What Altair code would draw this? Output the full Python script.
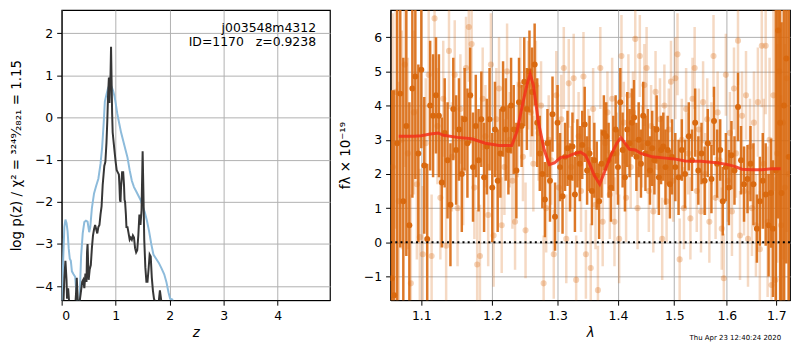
import altair as alt
import pandas as pd

# ---------------- p(z) panel data ----------------
Z_PRIOR = [0.0, 0.03, 0.05, 0.07, 0.09, 0.11, 0.13, 0.15, 0.17, 0.19, 0.22, 0.25, 0.27, 0.30, 0.33,
           0.36, 0.39, 0.42, 0.45, 0.48, 0.51, 0.53, 0.56, 0.60, 0.64, 0.68, 0.72, 0.75, 0.78, 0.80,
           0.83, 0.86, 0.89, 0.92, 0.95, 0.98, 1.00, 1.03, 1.06, 1.10, 1.14, 1.18, 1.22, 1.26, 1.30,
           1.34, 1.38, 1.42, 1.46, 1.50, 1.54, 1.58, 1.62, 1.66, 1.70, 1.75, 1.80, 1.85, 1.90, 1.94,
           1.98, 2.01, 2.05, 2.08]
LOGP_PRIOR = [-4.6, -3.3, -2.6, -2.42, -2.5, -2.7, -3.1, -3.35, -3.4, -3.65, -3.72, -3.78, -4.1, -4.5, -4.4,
              -3.3, -2.75, -2.48, -2.45, -2.47, -2.72, -2.6, -2.15, -1.8, -1.62, -1.45, -1.1, -0.7, -0.1, 0.38,
              0.55, 0.7, 0.78, 0.75, 0.65, 0.5, 0.35, 0.1, -0.1, -0.35, -0.55, -0.75, -0.95, -1.25, -1.5,
              -1.65, -1.75, -1.85, -1.95, -2.1, -2.25, -2.45, -2.7, -3.0, -3.25, -3.35, -3.45, -3.58, -3.72, -3.9,
              -4.15, -4.3, -4.32, -4.45]

Z_CHI = [0.03, 0.05, 0.07, 0.09, 0.10, 0.12, 0.14, 0.16, 0.25, 0.27, 0.28, 0.30, 0.32, 0.35, 0.38,
         0.40, 0.42, 0.44, 0.46, 0.47, 0.48, 0.50, 0.52, 0.54, 0.56, 0.58, 0.60, 0.62, 0.64, 0.66,
         0.68, 0.70, 0.72, 0.74, 0.76, 0.79, 0.81, 0.83, 0.845, 0.86, 0.875, 0.885, 0.895, 0.905, 0.915,
         0.925, 0.935, 0.945, 0.96, 0.98, 1.00, 1.02, 1.04, 1.06, 1.07, 1.08, 1.09, 1.10, 1.12, 1.14,
         1.155, 1.165, 1.175, 1.19, 1.20, 1.22, 1.24, 1.26, 1.28, 1.30, 1.32, 1.34, 1.36, 1.38, 1.40,
         1.42, 1.44, 1.46, 1.48, 1.50, 1.515, 1.53, 1.55, 1.57, 1.59, 1.61, 1.63, 1.65, 1.67, 1.69,
         1.71, 1.74, 1.77, 1.80, 1.82, 1.84, 1.86]
LOGP_CHI = [-4.5, -3.8, -3.4, -3.85, -4.3, -4.05, -4.4, -4.5, -4.5, -4.1, -3.8, -4.4, -4.5, -4.2, -3.9,
            -3.85, -4.05, -3.7, -3.9, -3.2, -3.0, -3.85, -3.6, -3.5, -3.1, -2.8, -2.65, -2.55, -2.65, -2.75,
            -2.6, -2.55, -2.3, -2.1, -1.6, -1.15, -1.05, -0.6, -0.1, 0.55, 0.95, 0.35, 0.85, 1.0, 1.68,
            0.9, 0.1, -0.35, -0.55, -0.8, -1.05, -1.25, -1.3, -1.35, -1.6, -1.95, -2.0, -1.65, -1.3, -1.3,
            -1.6, -1.95, -2.0, -2.3, -2.6, -2.6, -2.75, -2.9, -2.85, -2.9, -2.8, -2.85, -3.1, -3.2, -3.15,
            -2.8, -2.3, -2.55, -2.2, -0.8, -1.8, -2.9, -3.55, -3.9, -3.9, -3.6, -3.25, -3.3, -3.8, -4.1,
            -4.3, -4.4, -4.4, -4.35, -4.1, -4.3, -4.5]

# ---------------- spectrum panel data ----------------
DARK_LAM = [1.061, 1.064, 1.068, 1.072, 1.076, 1.080, 1.084, 1.088, 1.092, 1.096, 1.100,
            1.104, 1.108, 1.112, 1.116, 1.120, 1.124, 1.128, 1.132, 1.136, 1.140, 1.144, 1.148, 1.152,
            1.156, 1.160, 1.164, 1.168, 1.172, 1.176, 1.180, 1.184, 1.188, 1.192, 1.196, 1.200, 1.204,
            1.208, 1.212, 1.216, 1.220, 1.224, 1.228, 1.232, 1.236, 1.240, 1.244, 1.248, 1.252, 1.256,
            1.260, 1.264, 1.268,
            1.272, 1.276, 1.280, 1.284, 1.288, 1.292, 1.296, 1.300, 1.304, 1.308, 1.312, 1.316, 1.320,
            1.324, 1.328, 1.332, 1.336, 1.340, 1.344, 1.348, 1.352, 1.356, 1.360, 1.364, 1.368, 1.372,
            1.376, 1.380, 1.384, 1.388, 1.392, 1.396, 1.400, 1.404, 1.408, 1.412, 1.416, 1.420, 1.424,
            1.428, 1.432, 1.436, 1.440, 1.444, 1.448, 1.452, 1.456, 1.460, 1.464, 1.468, 1.472, 1.476,
            1.480, 1.484, 1.488, 1.492, 1.496,
            1.502, 1.508, 1.514, 1.520, 1.527, 1.533, 1.539, 1.545, 1.551, 1.557, 1.563, 1.570, 1.575,
            1.581, 1.587, 1.592, 1.598, 1.604, 1.609, 1.615, 1.622, 1.628, 1.634, 1.641, 1.647, 1.653,
            1.660, 1.666, 1.672, 1.678, 1.684, 1.689, 1.693,
            1.699, 1.704, 1.708, 1.711, 1.716, 1.721, 1.726]
DARK_FLUX = [-1.05, -1.55, 2.9, 4.35, 1.2, 3.4, 0.5, 4.5, 4.85, 2.6, 5.05,
             2.25, 0.1, 4.0, 3.7, 4.3, 3.7, 1.75, 3.2, 2.4, 1.1, 3.9, 2.7, 3.3,
             2.0, 3.6, 2.9, 4.3, 2.2, 3.4, 2.4, 3.6, 1.9, 2.8, 3.6, 1.6, 3.3,
             1.8, 2.6, 3.9, 3.3, 2.7, 4.0, 3.3, 2.1, 4.1, 3.4, 4.7, 3.9, 5.0,
             4.4, 5.2, 3.5,
             2.6, 2.0, 1.25, 2.9, 1.8, 3.75, 0.75, 3.5, 2.2, 1.35, 2.5, 2.75, 1.9,
             2.8, 1.4, 2.6, 2.3, 2.85, 3.45, 2.1, 2.6, 1.5, 2.4, 1.95, 1.2, 2.3,
             3.2, 3.1, 2.4, 1.6, 2.6, 3.3, 2.2, 4.1, 2.7, 1.9, 3.3, 2.9, 3.5,
             3.65, 2.5, 3.0, 2.3, 3.7, 2.6, 2.9, 2.1, 2.75, 2.4, 3.3, 1.9, 2.7,
             2.8, 2.2, 2.7, 1.7, 2.5,
             2.2, 1.9, 2.7, 2.0, 3.1, 2.4, 3.5, 2.1, 2.6, 1.8, 2.9, 1.85, 3.55,
             2.3, 2.7, 1.2, 2.2, 1.6, 2.55, 2.1, 3.96, 2.4, 1.7, 1.85, 2.3, 1.7,
             0.4, 1.2, 1.8, 1.4, 0.5, 1.44, 0.4,
             2.1, 6.2, 3.5, 1.44, 4.0, 5.38, 2.5]
DARK_ERR = [5.5, 6.0, 5.0, 4.5, 4.2, 3.8, 3.6, 3.2, 3.0, 2.6, 2.3,
            2.0, 2.2, 1.9, 1.8, 1.7, 1.8, 1.9, 1.6, 1.7, 1.8, 1.5, 1.6, 1.5,
            1.7, 1.5, 1.6, 1.4, 1.6, 1.5, 1.5, 1.4, 1.6, 1.4, 1.5, 1.6, 1.4,
            1.5, 1.3, 1.4, 1.5, 1.3, 1.4, 1.3, 1.4, 1.3, 1.2, 1.3, 1.2, 1.2,
            1.3, 1.2, 1.3,
            1.1, 1.0, 1.1, 1.0, 1.2, 1.1, 1.0, 1.1, 1.0, 1.1, 1.0, 1.1, 1.0,
            1.0, 1.1, 1.0, 1.1, 1.0, 1.1, 1.0, 1.1, 1.0, 1.1, 1.0, 1.1, 1.0,
            1.1, 1.0, 1.1, 1.0, 1.1, 1.0, 1.1, 1.0, 1.1, 1.0, 1.1, 1.0, 1.0,
            1.1, 1.0, 1.1, 1.0, 1.0, 1.1, 1.0, 1.0, 1.1, 1.0, 1.0, 1.1, 1.0,
            1.0, 1.1, 1.0, 1.0, 1.1,
            1.0, 1.1, 0.9, 1.0, 1.0, 0.9, 1.0, 1.0, 0.9, 1.0, 1.0, 1.0, 1.0,
            1.0, 0.9, 1.0, 1.0, 1.1, 1.0, 1.0, 1.0, 1.0, 1.1, 1.0, 1.1, 1.2,
            1.0, 1.3, 1.4, 1.5, 1.5, 1.6, 2.0,
            5.0, 5.5, 6.0, 5.0, 6.5, 6.0, 7.0]

LIGHT_LAM = [1.062, 1.066, 1.070, 1.074, 1.078, 1.082, 1.086, 1.090, 1.094, 1.098, 1.102, 1.106,
             1.110, 1.114, 1.118, 1.122, 1.126, 1.130, 1.134, 1.138, 1.142, 1.146, 1.150, 1.154,
             1.158, 1.162, 1.166, 1.170, 1.174, 1.178, 1.182, 1.186, 1.190, 1.194, 1.198, 1.202,
             1.206, 1.210, 1.214, 1.218, 1.222, 1.226, 1.230, 1.234, 1.238, 1.242, 1.246, 1.250,
             1.254, 1.258, 1.262, 1.266, 1.270, 1.274, 1.278, 1.282, 1.286, 1.290, 1.294, 1.298,
             1.302, 1.306, 1.310, 1.314, 1.318, 1.322, 1.326, 1.330, 1.334, 1.338, 1.342, 1.346,
             1.350, 1.354, 1.358, 1.362, 1.366, 1.370, 1.374, 1.378, 1.382, 1.386, 1.390, 1.394,
             1.398, 1.402, 1.406, 1.410, 1.414, 1.418, 1.422, 1.426, 1.430, 1.434, 1.438, 1.442,
             1.446, 1.450, 1.454, 1.458, 1.462, 1.466, 1.470, 1.474, 1.478, 1.482, 1.486, 1.490,
             1.494, 1.498, 1.502, 1.506, 1.510, 1.514, 1.518, 1.522, 1.526, 1.530, 1.534, 1.538,
             1.542, 1.546, 1.550, 1.554, 1.558, 1.562, 1.566, 1.570, 1.574, 1.578, 1.582, 1.586,
             1.590, 1.594, 1.598, 1.602, 1.606, 1.610, 1.614, 1.618, 1.622, 1.626, 1.630, 1.634,
             1.638, 1.642, 1.646, 1.650, 1.654, 1.658, 1.662, 1.666, 1.670, 1.674, 1.678, 1.682,
             1.686, 1.690, 1.694, 1.698, 1.702, 1.706, 1.710, 1.714, 1.718, 1.722, 1.726]
LIGHT_FLUX = [2.2, 4.4, 1.2, 3.0, 5.2, 2.6, -1.2, 3.8, 1.7, 0.15, -0.35, 2.9,
              4.9, -0.4, 6.55, 3.4, 1.3, 4.2, -0.1, 5.6, 2.5, 4.9, 1.0, 3.9,
              2.1, 5.1, 6.3, 5.8, 1.6, -0.65, -0.4, 4.2, 3.1, 0.8, 5.2, 0.2,
              3.6, 4.5, 0.5, 2.2, 5.0, 3.0, 1.8, 0.6, 3.3, 4.6, 2.5, 0.35,
              4.6, 3.8, 2.3, 4.6, 3.2, 4.0, -1.2, 1.0, 3.0, 2.4, -0.35, 4.3,
              1.6, 3.6, 5.1, 0.1, 4.65, 2.2, 4.8, -1.1, 3.1, 1.5, 4.85, -0.35,
              2.7, -0.75, 3.9, 1.1, -1.4, 5.1, 0.6, 2.9, 3.8, 1.4, 4.2, 0.6,
              2.6, 0.1, 5.45, 3.5, 1.3, 4.3, 2.2, 3.8, 5.95, 1.0, 5.45, 2.8,
              4.6, 5.1, 1.5, 3.4, 0.9, 4.4, 2.2, 3.6, 0.1, 4.0, 1.2, 3.3,
              4.7, 1.8, 4.8, 5.5, -0.5, 3.0, 1.0, 3.9, 2.6, 0.7, 4.2, 5.1,
              1.5, 3.3, 0.9, 4.1, 2.0, 3.6, 0.6, 2.9, 5.45, 1.3, 3.8, 2.4,
              0.4, -1.05, 4.9, 1.8, 3.2, 0.9, 4.5, 2.6, 5.9, 0.2, 3.7, 1.5,
              4.3, 0.1, 2.8, 1.0, 3.5, 0.5, 4.1, -0.2, 5.75, 2.3, 5.75, 0.6,
              3.0, -1.25, 4.3, -1.1, 2.6, 5.0, 0.5, 3.5, 1.6, 4.8, 2.0]
LIGHT_ERR = [4.5, 4.0, 3.5, 3.2, 3.0, 2.8, 2.6, 2.4, 2.2, 2.0, 2.0, 1.9,
             1.9, 1.8, 1.8, 1.7, 1.8, 1.7, 1.7, 1.7, 1.6, 1.6, 1.7, 1.6,
             1.6, 1.5, 1.6, 1.6, 1.5, 1.6, 1.5, 1.5, 1.5, 1.5, 1.5, 1.5,
             1.5, 1.5, 1.4, 1.4, 1.4, 1.4, 1.4, 1.4, 1.4, 1.4, 1.3, 1.4,
             1.3, 1.3, 1.4, 1.3, 1.4, 1.3, 1.4, 1.3, 1.3, 1.3, 1.3, 1.3,
             1.3, 1.3, 1.2, 1.3, 1.3, 1.2, 1.3, 1.3, 1.3, 1.2, 1.3, 1.3,
             1.2, 1.3, 1.2, 1.3, 1.3, 1.2, 1.3, 1.2, 1.2, 1.3, 1.2, 1.3,
             1.2, 1.3, 1.2, 1.2, 1.3, 1.2, 1.2, 1.2, 1.2, 1.2, 1.2, 1.2,
             1.2, 1.2, 1.2, 1.2, 1.2, 1.2, 1.2, 1.2, 1.2, 1.2, 1.2, 1.2,
             1.2, 1.2, 1.2, 1.2, 1.2, 1.2, 1.2, 1.2, 1.2, 1.2, 1.2, 1.2,
             1.2, 1.2, 1.2, 1.2, 1.2, 1.2, 1.2, 1.2, 1.2, 1.2, 1.2, 1.2,
             1.2, 1.3, 1.2, 1.2, 1.2, 1.3, 1.2, 1.3, 1.3, 1.3, 1.3, 1.3,
             1.3, 1.4, 1.4, 1.4, 1.5, 1.5, 1.6, 1.7, 1.8, 1.9, 2.0, 2.2,
             2.4, 2.6, 2.8, 3.0, 3.2, 3.5, 3.8, 4.0, 4.2, 4.5, 4.8]

MODEL_LAM = [1.070, 1.090, 1.100, 1.112, 1.123, 1.130, 1.150, 1.170, 1.190, 1.210, 1.229, 1.237,
             1.245, 1.252, 1.257, 1.262, 1.270, 1.279, 1.287, 1.295, 1.305, 1.315, 1.325, 1.337,
             1.345, 1.352, 1.360, 1.369, 1.378, 1.388, 1.398, 1.405, 1.412, 1.420, 1.430, 1.440,
             1.460, 1.480, 1.500, 1.520, 1.550, 1.580, 1.600, 1.615, 1.630, 1.650, 1.670, 1.690,
             1.709]
MODEL_FLUX = [3.10, 3.10, 3.12, 3.17, 3.20, 3.13, 3.07, 3.03, 2.90, 2.83, 2.83, 3.25,
              4.00, 4.60, 4.93, 4.60, 3.50, 2.70, 2.27, 2.32, 2.48, 2.50, 2.58, 2.64,
              2.55, 2.30, 1.95, 1.70, 2.10, 2.55, 2.90, 3.06, 2.90, 2.72, 2.70, 2.60,
              2.50, 2.47, 2.44, 2.38, 2.37, 2.33, 2.28, 2.22, 2.14, 2.12, 2.12, 2.15,
              2.15]

Z_TICKS = [0, 1, 2, 3, 4]
LOGP_TICKS = [-4, -3, -2, -1, 0, 1, 2]
LAM_TICKS = [1.1, 1.2, 1.3, 1.4, 1.5, 1.6, 1.7]
FLUX_TICKS = [-1, 0, 1, 2, 3, 4, 5, 6]

TITLE_LINE1 = "j003548m4312"
TITLE_LINE2 = "ID=1170\u00a0\u00a0\u00a0z=0.9238"
TIMESTAMP = "Thu Apr 23 12:40:24 2020"

# ---------------- build ----------------
FONT = "DejaVu Sans"
MINUS = "replace(datum.label, '-', '\u2212')"

LW, LH = 270, 292
RW, RH = 402, 292

prior_df = pd.DataFrame({"z": Z_PRIOR, "logp": LOGP_PRIOR})
chi_df = pd.DataFrame({"z": Z_CHI, "logp": LOGP_CHI})

xz = alt.X("z:Q", scale=alt.Scale(domain=[0, 4.97], nice=False, zero=False),
           axis=alt.Axis(values=Z_TICKS, title="z", titleFontStyle="italic", labelExpr=MINUS))
yz = alt.Y("logp:Q", scale=alt.Scale(domain=[-4.335, 2.553], nice=False, zero=False),
           axis=alt.Axis(values=LOGP_TICKS, labelExpr=MINUS, titlePadding=11,
                         title="log p(z) / \u03c7\u00b2 = \u00b3\u00b2\u2074\u2079\u2044\u2082\u2088\u2082\u2081 = 1.15"))

prior_line = alt.Chart(prior_df).mark_line(color="#8dbbdb", strokeWidth=2, clip=True).encode(x=xz, y=yz)
chi_line = alt.Chart(chi_df).mark_line(color="#363636", strokeWidth=2, clip=True).encode(x="z:Q", y="logp:Q")

lbl1 = alt.Chart(pd.DataFrame({"t": [TITLE_LINE1]})).mark_text(
    align="right", baseline="middle", font=FONT, fontSize=12.5, color="black"
).encode(x=alt.value(LW - 14), y=alt.value(18), text="t:N")
lbl2 = alt.Chart(pd.DataFrame({"t": [TITLE_LINE2]})).mark_text(
    align="right", baseline="middle", font=FONT, fontSize=12.5, color="black"
).encode(x=alt.value(LW - 14), y=alt.value(32), text="t:N")

left = alt.layer(prior_line, chi_line, lbl1, lbl2).properties(width=LW, height=LH)

dark_df = pd.DataFrame({"lam": DARK_LAM, "flux": DARK_FLUX, "err": DARK_ERR})
dark_df["lo"] = dark_df["flux"] - dark_df["err"]
dark_df["hi"] = dark_df["flux"] + dark_df["err"]
light_df = pd.DataFrame({"lam": LIGHT_LAM, "flux": LIGHT_FLUX, "err": LIGHT_ERR})
light_df["lo"] = light_df["flux"] - light_df["err"]
light_df["hi"] = light_df["flux"] + light_df["err"]
model_df = pd.DataFrame({"lam": MODEL_LAM, "flux": MODEL_FLUX})

FLUX_SCALE = alt.Scale(domain=[-1.694, 6.795], nice=False, zero=False)
xl = alt.X("lam:Q", scale=alt.Scale(type="log", domain=[1.0593, 1.7288], nice=False, zero=False),
           axis=alt.Axis(values=LAM_TICKS, format=".1f", title="\u03bb", titleFontStyle="italic"))
yf = alt.Y("lo:Q", scale=FLUX_SCALE,
           axis=alt.Axis(values=FLUX_TICKS, labelExpr=MINUS, titlePadding=11,
                         title="f\u03bb \u00d7 10\u207b\u00b9\u2079"))

ORANGE = "#d9690f"
light_bars = alt.Chart(light_df).mark_rule(color=ORANGE, opacity=0.25, strokeWidth=2.5, clip=True).encode(
    x=xl, y=yf, y2="hi:Q")
light_pts = alt.Chart(light_df).mark_circle(color=ORANGE, opacity=0.3, size=38, clip=True).encode(
    x="lam:Q", y="flux:Q")
dark_bars = alt.Chart(dark_df).mark_rule(color=ORANGE, opacity=0.9, strokeWidth=2.5, clip=True).encode(
    x="lam:Q", y="lo:Q", y2="hi:Q")
dark_pts = alt.Chart(dark_df).mark_circle(color=ORANGE, opacity=1.0, size=36, clip=True).encode(
    x="lam:Q", y="flux:Q")
model_line = alt.Chart(model_df).mark_line(color="#f2301a", opacity=0.85, strokeWidth=3, clip=True).encode(
    x="lam:Q", y="flux:Q")
zero_line = alt.Chart(pd.DataFrame({"flux": [0.0]})).mark_rule(
    color="black", strokeWidth=2, strokeDash=[2, 3.2]).encode(y="flux:Q")
stamp = alt.Chart(pd.DataFrame({"t": [TIMESTAMP]})).mark_text(
    align="right", baseline="middle", font=FONT, fontSize=7, color="black"
).encode(x=alt.value(RW - 9), y=alt.value(RH + 38), text="t:N")

right = alt.layer(light_bars, light_pts, dark_bars, dark_pts, model_line, zero_line, stamp).properties(
    width=RW, height=RH)

chart = alt.hconcat(left, right, spacing=6).properties(padding=0).configure_view(
    stroke="black", strokeWidth=1.2
).configure_axis(
    labelFont=FONT, labelFontSize=12.5, titleFont=FONT, titleFontSize=13.5, titleFontWeight="normal",
    labelColor="black", titleColor="black", tickColor="black", domainColor="black",
    tickSize=5, labelPadding=4, titlePadding=4, grid=True, gridColor="#b0b0b0", gridWidth=1,
    zindex=1
)

chart.save("out.html", embed_options={"renderer": "svg", "actions": False})
